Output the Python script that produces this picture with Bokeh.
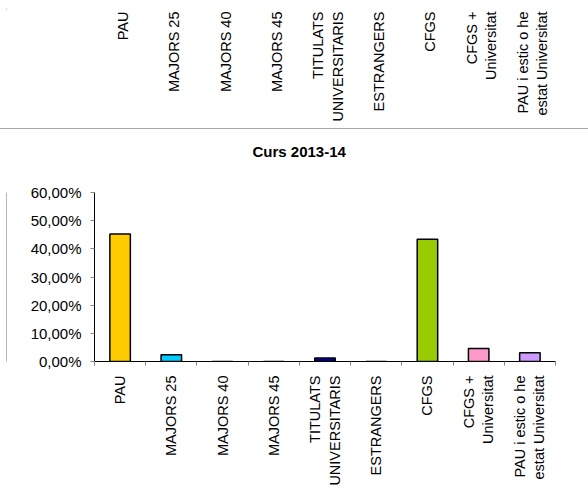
import math
from bokeh.plotting import figure
from bokeh.layouts import column, row
from bokeh.models import FixedTicker, Range1d
from bokeh.embed import file_html
from bokeh.resources import INLINE

categories = ["PAU", "MAJORS 25", "MAJORS 40", "MAJORS 45",
              "TITULATS\nUNIVERSITARIS", "ESTRANGERS", "CFGS",
              "CFGS +\nUniversitat", "PAU i estic o he\nestat Universitat"]
values = [45.3, 2.4, 0.0, 0.0, 1.2, 0.0, 43.4, 4.6, 3.1]
colors = ["#FFCC00", "#00CCFF", "#FFFFFF", "#FFFFFF", "#000099",
          "#FFFFFF", "#99CC00", "#FF99CC", "#CC99FF"]
y_ticks = [0, 10, 20, 30, 40, 50, 60]
y_tick_labels = ["0,00%", "10,00%", "20,00%", "30,00%", "40,00%", "50,00%", "60,00%"]
title_text = "Curs 2013-14"

FONT = "Liberation Sans"
positions = list(range(len(categories)))
label_map = dict(zip(positions, categories))
boundaries = [i - 0.5 for i in range(len(categories) + 1)]


def edge_strip(h):
    # narrow figure whose 1px-wide frame forms the grey left border line
    s = figure(width=7, height=h, min_border_left=6, min_border_right=0,
               min_border_top=0, min_border_bottom=0,
               x_range=Range1d(0, 1), y_range=Range1d(0, 1),
               x_axis_location=None, y_axis_location=None,
               output_backend="svg", toolbar_location=None)
    s.grid.visible = False
    s.outline_line_color = None
    s.background_fill_color = "#707070"
    s.border_fill_color = "white"
    return s


# ---- top strip: labels of the previous chart (cut off) ----
p1 = figure(width=581, height=128,
            x_range=Range1d(-0.5, len(categories) - 0.5), y_range=Range1d(0, 1),
            min_border_left=90, min_border_right=30, min_border_top=8,
            min_border_bottom=119, output_backend="svg", toolbar_location=None)
p1.outline_line_color = None
p1.grid.visible = False
p1.yaxis.visible = False
ax1 = p1.xaxis[0]
ax1.ticker = FixedTicker(ticks=positions)
ax1.major_label_overrides = label_map
ax1.major_label_orientation = math.pi / 2
ax1.axis_line_color = None
ax1.major_tick_line_color = None
ax1.minor_tick_line_color = None
ax1.major_tick_out = 0
ax1.major_label_standoff = 2
ax1.major_label_text_font = FONT
ax1.major_label_text_font_size = "14.5px"
ax1.major_label_text_color = "black"

# ---- main chart ----
p2 = figure(width=581, height=359,
            x_range=Range1d(-0.5, len(categories) - 0.5), y_range=Range1d(0, 60),
            min_border_left=87, min_border_right=33, min_border_top=63,
            min_border_bottom=123, output_backend="svg", toolbar_location=None,
            title=title_text)
p2.outline_line_color = None
p2.grid.visible = False
p2.title.text_font = FONT
p2.title.text_font_size = "15px"
p2.title.text_font_style = "bold"
p2.title.align = "left"
p2.title.offset = 158
p2.title.vertical_align = "bottom"
p2.title.standoff = 4
p2.title.padding = dict(left=0, right=0, top=0, bottom=31)
p2.title.text_color = "black"

p2.vbar(x=positions, top=values, width=0.4, fill_color=colors,
        line_color="black", line_width=1.5)

xa = p2.xaxis[0]
xa.ticker = FixedTicker(ticks=positions, minor_ticks=boundaries)
xa.major_label_overrides = label_map
xa.major_label_orientation = math.pi / 2
xa.axis_line_color = "black"
xa.major_tick_out = 0
xa.major_tick_in = 0
xa.minor_tick_out = 4
xa.minor_tick_in = 0
xa.minor_tick_line_color = "#868686"
xa.major_label_standoff = 10
xa.major_label_text_font = FONT
xa.major_label_text_font_size = "14.5px"
xa.major_label_text_color = "black"

ya = p2.yaxis[0]
ya.ticker = FixedTicker(ticks=y_ticks)
ya.major_label_overrides = dict(zip(y_ticks, y_tick_labels))
ya.axis_line_color = "black"
ya.major_tick_out = 4
ya.major_tick_in = 0
ya.major_tick_line_color = "#868686"
ya.minor_tick_line_color = None
ya.major_label_standoff = 9
ya.major_label_text_font = FONT
ya.major_label_text_font_size = "15px"
ya.major_label_text_color = "black"

top = row(edge_strip(128), p1, styles={"border-bottom": "1px solid #a6a6a6"})
bottom = row(edge_strip(359), p2)
layout = column(top, bottom)

open("out.html", "w").write(file_html(layout, INLINE))
